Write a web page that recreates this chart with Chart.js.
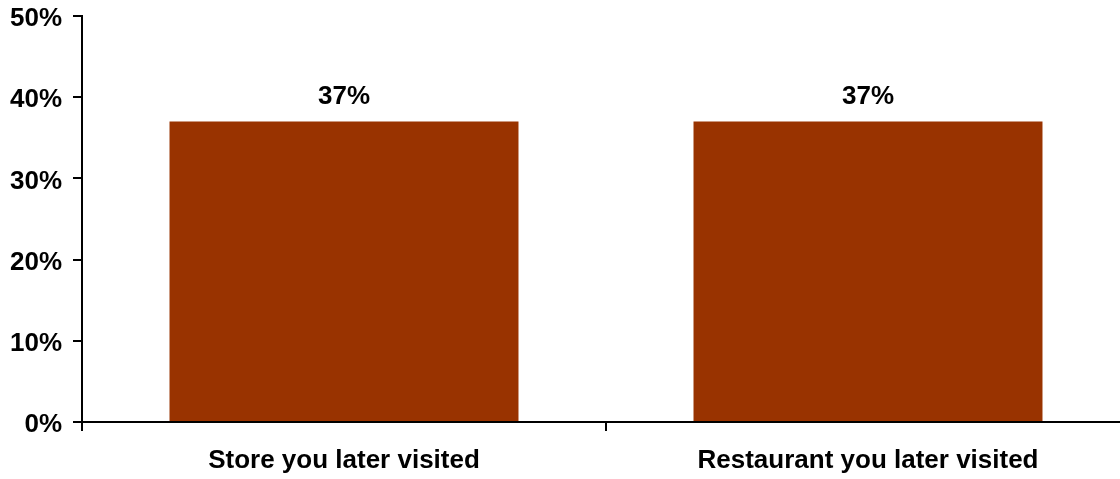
<!DOCTYPE html>
<html lang="en">
<head>
    <meta charset="UTF-8">
    <title>Visited Chart</title>
    <script src="https://cdn.jsdelivr.net/npm/chart.js"></script>
    <style>
        html, body { margin: 0; padding: 0; background: #fff; overflow: hidden; }
        #wrap { width: 1130px; height: 479px; }
    </style>
</head>
<body>
<div id="wrap"><canvas id="visitChart" width="1130" height="479"></canvas></div>
<script>
    // Values
    const categories = ['Store you later visited', 'Restaurant you later visited'];
    const shares = [37, 37];
    const yTicks = [0, 10, 20, 30, 40, 50];

    const font = { family: 'Liberation Sans, Arial, sans-serif', size: 26, weight: 'bold' };

    // Simple value labels above the bars
    const valueLabels = {
        id: 'valueLabels',
        afterDatasetsDraw(chart) {
            const ctx = chart.ctx;
            ctx.save();
            ctx.font = 'bold 26px Liberation Sans, Arial, sans-serif';
            ctx.fillStyle = '#000';
            ctx.textAlign = 'center';
            ctx.textBaseline = 'alphabetic';
            chart.getDatasetMeta(0).data.forEach((bar, i) => {
                ctx.fillText(shares[i] + '%', bar.x, bar.y - 18);
            });
            ctx.restore();
        }
    };

    const ctx = document.getElementById('visitChart').getContext('2d');
    new Chart(ctx, {
        type: 'bar',
        data: {
            labels: categories,
            datasets: [{
                data: shares,
                backgroundColor: '#993300',
                categoryPercentage: 0.666,
                barPercentage: 1
            }]
        },
        options: {
            responsive: false,
            animation: false,
            layout: { padding: { top: 16, left: 0, right: 0, bottom: 0 } },
            plugins: { legend: { display: false }, tooltip: { enabled: false } },
            scales: {
                x: {
                    offset: true,
                    grid: {
                        offset: true,
                        drawOnChartArea: false,
                        drawTicks: true,
                        tickLength: 9,
                        color: '#000',
                        lineWidth: 2
                    },
                    border: { color: '#000', width: 2 },
                    ticks: { color: '#000', font: font, padding: 14 },
                    afterFit(scale) { scale.height = 57; }
                },
                y: {
                    min: 0,
                    max: 50,
                    afterBuildTicks(scale) { scale.ticks = yTicks.map(v => ({ value: v })); },
                    grid: {
                        drawOnChartArea: false,
                        drawTicks: true,
                        tickLength: 9,
                        color: '#000',
                        lineWidth: 2
                    },
                    border: { color: '#000', width: 2 },
                    ticks: {
                        color: '#000',
                        font: font,
                        padding: 11,
                        labelOffset: 3,
                        callback: v => v + '%'
                    },
                    afterFit(scale) {
                        scale.width = 82;
                        scale.paddingTop = 0;
                        scale.paddingBottom = 0;
                    }
                }
            }
        },
        plugins: [valueLabels]
    });
</script>
</body>
</html>
